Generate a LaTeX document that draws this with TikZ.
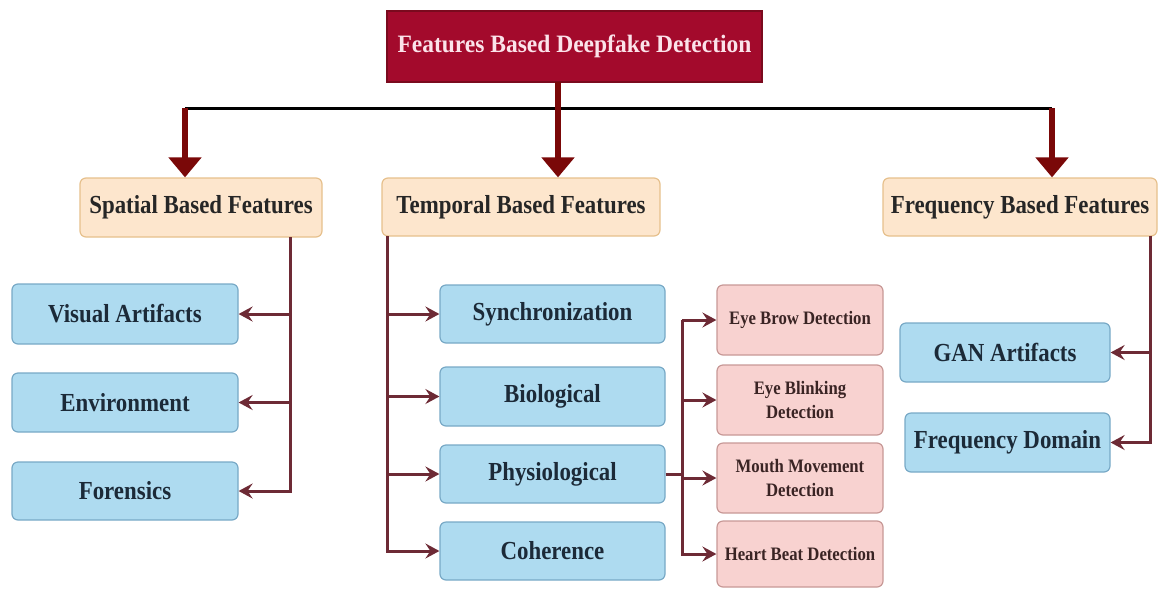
\documentclass[tikz,border=0pt]{standalone}
\usepackage{fontspec}
\setmainfont{Liberation Serif}
\newfontfamily\boxfont{Liberation Serif}[FakeStretch=0.88]
\newfontfamily\headfont{Liberation Serif}[FakeStretch=0.94]
\usetikzlibrary{arrows.meta,calc}

\definecolor{titlefill}{HTML}{A30A2C}
\definecolor{titledraw}{HTML}{7A0A1E}
\definecolor{titletext}{HTML}{FBE3EA}
\definecolor{beigefill}{HTML}{FDE6CD}
\definecolor{beigedraw}{HTML}{E6C08C}
\definecolor{bluefill}{HTML}{AEDBF0}
\definecolor{bluedraw}{HTML}{78A9C6}
\definecolor{bluetext}{HTML}{1C2A38}
\definecolor{pinkfill}{HTML}{F8D2D0}
\definecolor{pinkdraw}{HTML}{C79896}
\definecolor{pinktext}{HTML}{3A2424}
\definecolor{conncol}{HTML}{6D2A35}
\definecolor{trunkcol}{HTML}{7A0808}

\tikzset{
  box/.style={rounded corners=6pt, line width=1.2pt, align=center,
    inner sep=0pt, font=\boxfont\bfseries\fontsize{26}{29}\selectfont},
  titlebox/.style={box, fill=titlefill, draw=titledraw, text=titletext, rounded corners=0pt,
    font=\headfont\bfseries\fontsize{25}{28}\selectfont},
  catbox/.style={box, fill=beigefill, draw=beigedraw, text=black!85},
  leafbox/.style={box, fill=bluefill, draw=bluedraw, text=bluetext},
  subbox/.style={box, fill=pinkfill, draw=pinkdraw, text=pinktext,
    font=\boxfont\bfseries\fontsize{19}{24}\selectfont},
  trunk/.style={draw=trunkcol, line width=6pt,
    -{Triangle[length=20pt,width=32pt]}},
  conn/.style={draw=conncol, line width=3pt},
  connarrow/.style={conn, -{Stealth[length=14pt,width=15pt,inset=5pt]}},
}

\begin{document}
\begin{tikzpicture}[x=1pt,y=-1pt]
\useasboundingbox (0,0) rectangle (1159,590);

% root
\node[titlebox, minimum width=375pt, minimum height=71pt] (root) at (574.5,46.5)
  {Features Based Deepfake Detection};

% feature families
\node[catbox, minimum width=242pt, minimum height=59pt] (spatial) at (201,207.5) {Spatial Based Features};
\node[catbox, minimum width=278pt, minimum height=58pt] (temporal) at (521,207) {Temporal Based Features};
\node[catbox, minimum width=274pt, minimum height=58pt] (frequency) at (1020,207) {Frequency Based Features};

% spatial leaves
\node[leafbox, minimum width=226pt, minimum height=60pt] (visual) at (125,314) {Visual Artifacts};
\node[leafbox, minimum width=226pt, minimum height=59pt] (environment) at (125,402.5) {Environment};
\node[leafbox, minimum width=226pt, minimum height=58pt] (forensics) at (125,491) {Forensics};

% temporal leaves
\node[leafbox, minimum width=225pt, minimum height=58pt] (sync) at (552.5,314) {Synchronization};
\node[leafbox, minimum width=225pt, minimum height=59pt] (bio) at (552.5,396.5) {Biological};
\node[leafbox, minimum width=225pt, minimum height=58pt] (physio) at (552.5,474) {Physiological};
\node[leafbox, minimum width=225pt, minimum height=58pt] (coherence) at (552.5,551) {Coherence};

% physiological cues
\node[subbox, minimum width=166pt, minimum height=70pt] (eyebrow) at (800,320) {Eye Brow Detection};
\node[subbox, minimum width=166pt, minimum height=70pt] (blink) at (800,400) {Eye Blinking\\Detection};
\node[subbox, minimum width=166pt, minimum height=70pt] (mouth) at (800,478) {Mouth Movement\\Detection};
\node[subbox, minimum width=166pt, minimum height=66pt] (heart) at (800,554) {Heart Beat Detection};

% frequency leaves
\node[leafbox, minimum width=210pt, minimum height=59pt] (gan) at (1005,352.5) {GAN Artifacts};
\node[leafbox, minimum width=205pt, minimum height=59pt] (fdomain) at (1007.5,442.5) {Frequency Domain};

% top distribution bar
\coordinate (tr) at (558,82);
\coordinate (hl) at (185,108);
\coordinate (hr) at (1052,108);
\draw[black, line width=3pt] (hl) -- (hr);
\draw[trunk] (tr) -- (tr |- temporal.north);
\draw[trunk] (hl) -- (hl |- spatial.north);
\draw[trunk] (hr) -- (hr |- frequency.north);

% spatial branch
\coordinate (sx) at (290,237);
\draw[connarrow] (sx) |- (forensics.east);
\draw[connarrow] (sx |- visual.east) -- (visual.east);
\draw[connarrow] (sx |- environment.east) -- (environment.east);

% temporal branch
\coordinate (tx) at (387,236);
\draw[connarrow] (tx) |- (coherence.west);
\draw[connarrow] (tx |- sync.west) -- (sync.west);
\draw[connarrow] (tx |- bio.west) -- (bio.west);
\draw[connarrow] (tx |- physio.west) -- (physio.west);

% physiological branch
\coordinate (px) at (682,474);
\draw[conn] (physio.east) -- (px);
\draw[connarrow] (px |- eyebrow.west) -- (eyebrow.west);
\draw[connarrow] (px |- eyebrow.west) |- (heart.west);
\draw[connarrow] (px |- blink.west) -- (blink.west);
\draw[connarrow] (px |- mouth.west) -- (mouth.west);

% frequency branch
\coordinate (fx) at (1150,236);
\draw[connarrow] (fx) |- (fdomain.east);
\draw[connarrow] (fx |- gan.east) -- (gan.east);
\end{tikzpicture}
\end{document}
